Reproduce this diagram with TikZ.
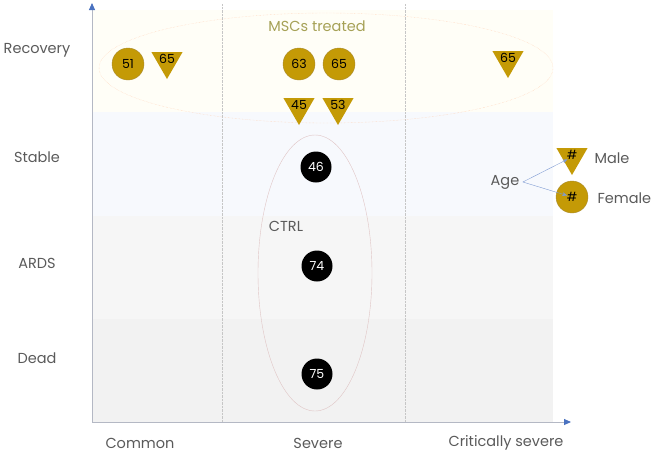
\documentclass[tikz,border=0pt]{standalone}
\usepackage{fontspec}
\setmainfont{Poppins}
\usetikzlibrary{shapes.geometric,arrows.meta}

\definecolor{gold}{HTML}{C49A06}
\definecolor{golddark}{HTML}{A88A30}
\definecolor{txtgray}{HTML}{5A5A5A}
\definecolor{axisgray}{HTML}{B4B8C4}
\definecolor{axisblue}{HTML}{4A72C0}
\definecolor{bandrec}{HTML}{FFFEF7}
\definecolor{bandsta}{HTML}{F7F9FD}
\definecolor{bandards}{HTML}{F6F6F6}
\definecolor{banddead}{HTML}{F2F2F2}

\begin{document}
\begin{tikzpicture}[x=1pt,y=-1pt,
    axislabel/.style={font=\fontsize{14.5}{16}\selectfont,text=txtgray},
    grouplabel/.style={font=\fontsize{14.5}{16}\selectfont},
    numtxt/.style={font=\fontsize{12.5}{14}\selectfont,inner sep=0pt},
    fem/.style={circle,fill=gold,draw=golddark,minimum size=32pt,inner sep=0pt,numtxt},
    male/.style={regular polygon,regular polygon sides=3,shape border rotate=180,fill=gold,minimum size=36pt,inner sep=0pt,
      label={[numtxt,yshift=2pt]center:#1}},
    ctrl/.style={circle,fill=black,minimum size=31pt,inner sep=0pt,text=white,numtxt},
    divider/.style={densely dotted,gray!45},
    axis/.style={axisgray,line width=0.9pt,-{Triangle[color=axisblue,length=7pt,width=6pt]}}]
  \useasboundingbox (0,0) rectangle (656,456);

  % severity bands
  \fill[bandrec] (92,10) rectangle (553,112);
  \fill[bandsta] (92,112) rectangle (553,216);
  \fill[bandards] (92,216) rectangle (553,319);
  \fill[banddead] (92,319) rectangle (553,422);

  \draw[divider] (222,4) -- (222,422);
  \draw[divider] (405,4) -- (405,422);

  \draw[axis] (92,422) -- (92,3);
  \draw[axis] (92,422) -- (571,422);

  \node[axislabel] (recovery) at (37,50) {Recovery};
  \node[axislabel] (stable) at (37,157) {Stable};
  \node[axislabel] (ards) at (37,263) {ARDS};
  \node[axislabel] (dead) at (37,358) {Dead};

  \node[axislabel] (common) at (140,443) {Common};
  \node[axislabel] (severe) at (318,443) {Severe};
  \node[axislabel] (critical) at (506,443) {Critically severe};

  % groups
  \draw[densely dotted,color=red!25!orange!30] (326,68) ellipse [x radius=227, y radius=55];
  \draw[color=red!30!gray!35] (315,273) ellipse [x radius=57, y radius=138];
  \node[grouplabel,text=olive!60!gray!80] (msc) at (317,26) {MSCs treated};
  \node[grouplabel,text=txtgray] (ctrllabel) at (286,226) {CTRL};

  % MSCs treated
  \node[fem] (f51) at (128,64) {51};
  \node[male=65] (m65a) at (167,61) {};
  \node[fem] (f63) at (299,64) {63};
  \node[fem] (f65) at (339,64) {65};
  \node[male=45] (m45) at (299,107) {};
  \node[male=53] (m53) at (338,107) {};
  \node[male=65] (m65b) at (508,60) {};

  % control
  \node[ctrl] (c46) at (316,167) {46};
  \node[ctrl] (c74) at (317,266) {74};
  \node[ctrl] (c75) at (317,374) {75};

  % legend
  \node[male=\#] (legm) at (572,157) {};
  \node[fem] (legf) at (572,197) {\#};
  \node[axislabel,anchor=west] (maletxt) at (591,158) {Male};
  \node[axislabel,anchor=west] (femtxt) at (594,198) {Female};
  \node[axislabel] (age) at (505,182) {Age};
  \draw[axisblue!70,-{Stealth[length=5pt]},shorten >=5pt] (age.east) -- (legm.center);
  \draw[axisblue!70,-{Stealth[length=5pt]},shorten >=5pt] (age.east) -- (legf.center);
\end{tikzpicture}
\end{document}
